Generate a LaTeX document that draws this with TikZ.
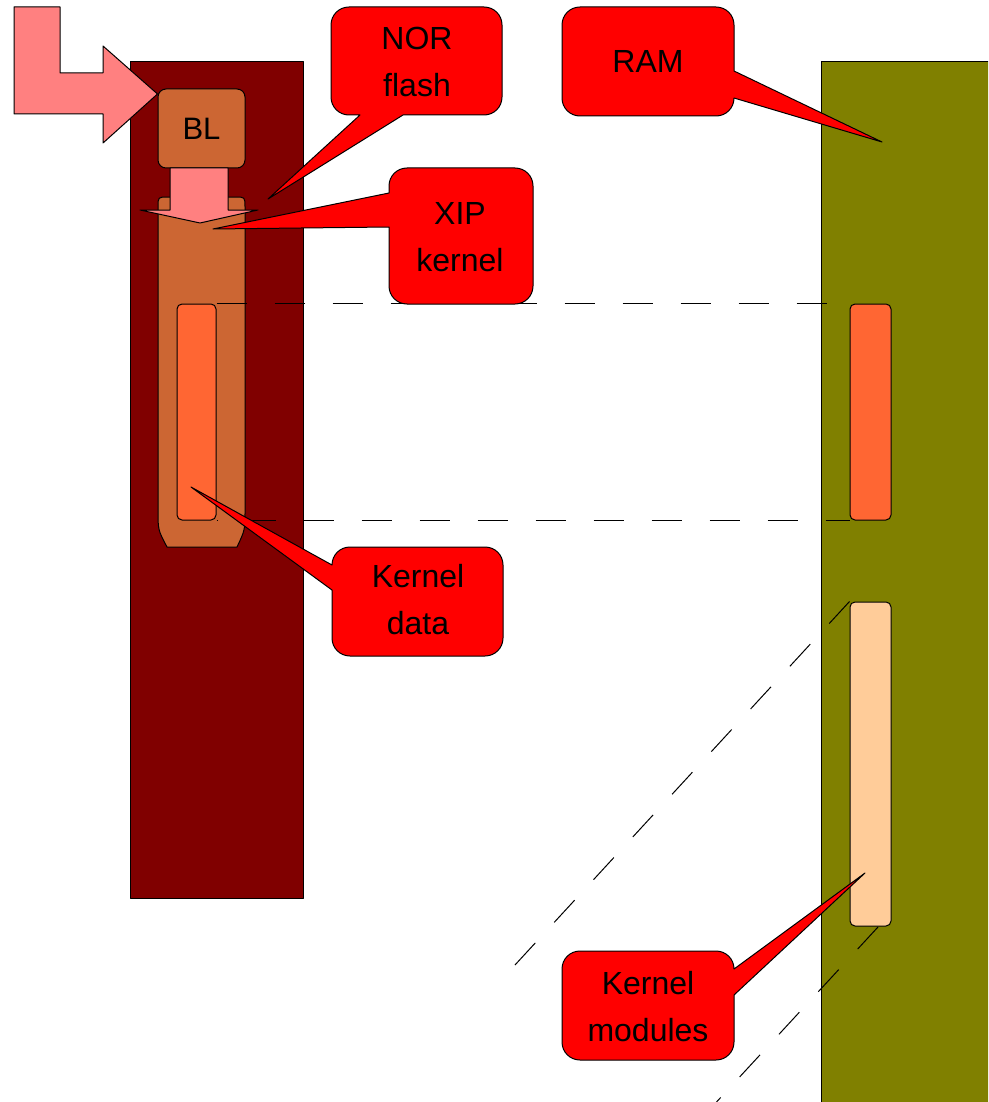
\documentclass[tikz,border=0pt]{standalone}
\usepackage{fontspec}
\setmainfont{Liberation Sans}
\definecolor{nordark}{HTML}{800000}
\definecolor{ramolive}{HTML}{808000}
\definecolor{salmon}{HTML}{FF8080}
\definecolor{xipc}{HTML}{CC6633}
\definecolor{kdc}{HTML}{FF6633}
\definecolor{kmc}{HTML}{FFCC99}
\definecolor{calred}{HTML}{FF0000}
\begin{document}
\begin{tikzpicture}[x=1pt,y=-1pt,
  outl/.style={draw=black,line width=1pt,line join=round},
  callout/.style={outl,fill=calred},
  thinbox/.style={outl,rectangle,rounded corners=5pt,inner sep=0pt},
  lbl/.style={align=center,inner sep=0pt,font=\fontsize{32}{47}\selectfont},
  dashline/.style={draw=black,line width=1pt,dash pattern=on 30pt off 28pt}]
\useasboundingbox (0,0) rectangle (988,1102);
\fill[white] (0,0) rectangle (988,1102);
\clip (0,0) rectangle (988,1102);
% memories
\draw[outl,fill=nordark] (130,62) rectangle (303,898);
\draw[outl,fill=ramolive] (821,62) rectangle (1000,1110);
% XIP kernel
\draw[outl,fill=xipc] (168,197) -- (235,197) .. controls (245,197) .. (245,207)
  -- (245,510) .. controls (245,530) .. (237,547) -- (167,547)
  .. controls (158,530) .. (158,510) -- (158,207) .. controls (158,197) .. (168,197) -- cycle;
% boxes
\node[thinbox,fill=kdc,minimum width=39pt,minimum height=216pt] (kdnor) at (196.5,412) {};
\node[thinbox,fill=kdc,minimum width=41pt,minimum height=216pt] (kdram) at (870.5,412) {};
\node[thinbox,fill=kmc,minimum width=41pt,minimum height=324pt] (kmram) at (870.5,764) {};
\node[outl,rectangle,rounded corners=8pt,fill=xipc,minimum width=87pt,minimum height=79pt,inner sep=0pt,
  font=\fontsize{31}{36}\selectfont] (bl) at (201.5,128.5) {BL};
% arrows
\draw[outl,fill=salmon] (14,7) -- (60,7) -- (60,73) -- (103,73) -- (103,46) -- (bl.west |- 0,94)
  -- (103,143) -- (103,114) -- (14,114) -- cycle;
\draw[outl,fill=salmon] (170,168) -- (228,168) -- (228,210) -- (258,210) -- (200,223)
  -- (140,210) -- (170,210) -- cycle;
% dashed connectors
\coordinate (d1b) at (503,978);
\coordinate (d2a) at (878,927);
\coordinate (d2b) at (531,1303);
\draw[dashline] (kdnor.north east) -- (kdram.north west);
\draw[dashline,dash phase=29pt] (kdnor.south east) -- (kdram.south west);
\draw[dashline] (kmram.north west) -- (d1b);
\draw[dashline] (d2a) -- (d2b);
% callouts
\draw[callout] (349,7) -- (484,7) .. controls (494,7) and (502,15) .. (502,25) -- (502,97)
  .. controls (502,107) and (494,115) .. (484,115) -- (403,115) -- (268,199) -- (360,115) -- (349,115)
  .. controls (339,115) and (331,107) .. (331,97) -- (331,25) .. controls (331,15) and (339,7) .. (349,7) -- cycle;
\node[lbl] (tnor) at (417,62) {NOR\\flash};
\draw[callout] (407,168) -- (515,168) .. controls (525,168) and (533,176) .. (533,186) -- (533,286)
  .. controls (533,296) and (525,304) .. (515,304) -- (407,304) .. controls (397,304) and (389,296) .. (389,286)
  -- (389,227) -- (213,229) -- (389,193) -- (389,186) .. controls (389,176) and (397,168) .. (407,168) -- cycle;
\node[lbl] (txip) at (460,237) {XIP\\kernel};
\draw[callout] (580,7) -- (716,7) .. controls (726,7) and (734,15) .. (734,25) -- (734,71) -- (882,142)
  -- (734,98) .. controls (734,108) and (726,116) .. (716,116) -- (580,116)
  .. controls (570,116) and (562,108) .. (562,98) -- (562,25) .. controls (562,15) and (570,7) .. (580,7) -- cycle;
\node[lbl] (tram) at (648,61) {RAM};
\draw[callout] (350,547) -- (485,547) .. controls (495,547) and (503,555) .. (503,565) -- (503,638)
  .. controls (503,648) and (495,656) .. (485,656) -- (350,656) .. controls (340,656) and (332,648) .. (332,638)
  -- (332,590) -- (191,487) -- (332,565) .. controls (332,555) and (340,547) .. (350,547) -- cycle;
\node[lbl] (tkd) at (418,600) {Kernel\\data};
\draw[callout] (580,951) -- (716,951) .. controls (726,951) and (734,959) .. (734,969)
  -- (865,873) -- (734,995) -- (734,1042) .. controls (734,1052) and (726,1060) .. (716,1060) -- (580,1060)
  .. controls (570,1060) and (562,1052) .. (562,1042) -- (562,969) .. controls (562,959) and (570,951) .. (580,951) -- cycle;
\node[lbl] (tkm) at (648,1007) {Kernel\\modules};
\end{tikzpicture}
\end{document}
